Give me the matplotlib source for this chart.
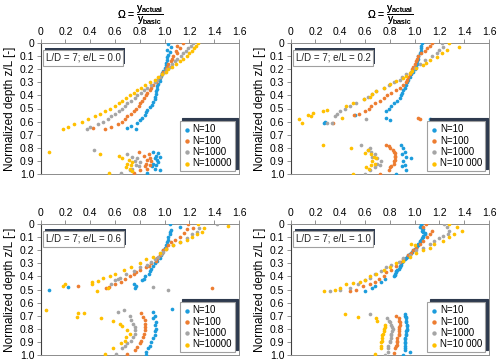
import matplotlib
matplotlib.use('Agg')
import matplotlib.pyplot as plt
from matplotlib import transforms
from matplotlib.patches import Rectangle

plt.rcParams['font.family'] = ['Liberation Sans', 'DejaVu Sans']
plt.rcParams['mathtext.fontset'] = 'custom'
plt.rcParams['mathtext.rm'] = 'Liberation Sans'
plt.rcParams['mathtext.it'] = 'Liberation Sans:italic'
plt.rcParams['mathtext.default'] = 'regular'

# ---------------- data ----------------
series_labels_a = ["N=10", "N=100", "N=1000", "N=10000"]
series_labels_b = ["N=10", "N=100", "N=1000", "N=10 000"]
panel_texts = ["L/D = 7; e/L = 0.0", "L/D = 7; e/L = 0.2", "L/D = 7; e/L = 0.6", "L/D = 7; e/L = 1.0"]
x_ticks = [0, 0.2, 0.4, 0.6, 0.8, 1.0, 1.2, 1.4, 1.6]
x_tick_labels = ["0", "0.2", "0.4", "0.6", "0.8", "1.0", "1.2", "1.4", "1.6"]
y_ticks = [0, 0.1, 0.2, 0.3, 0.4, 0.5, 0.6, 0.7, 0.8, 0.9, 1.0]
y_tick_labels = ["0", "0.1", "0.2", "0.3", "0.4", "0.5", "0.6", "0.7", "0.8", "0.9", "1.0"]

# Panel 1 : e/L = 0.0
p1_n10_z = [0.01, 0.03, 0.05, 0.07, 0.09, 0.11, 0.13, 0.15, 0.17, 0.19, 0.21, 0.23, 0.25, 0.27, 0.29, 0.31, 0.33,
            0.35, 0.37, 0.39, 0.41, 0.43, 0.45, 0.47, 0.49, 0.51, 0.53, 0.55, 0.57, 0.59, 0.61, 0.63, 0.65, 0.66,
            0.83, 0.84, 0.86, 0.87, 0.88, 0.89, 0.91, 0.92, 0.93, 0.94, 0.96, 0.97, 0.99]
p1_n10_w = [1.03, 1.05, 1.02, 1.04, 1.03, 1.02, 1.02, 1.01, 1.01, 1.00, 0.99, 0.98, 0.97, 0.96, 0.96, 0.95, 0.94,
            0.94, 0.93, 0.93, 0.92, 0.92, 0.91, 0.90, 0.88, 0.86, 0.85, 0.84, 0.82, 0.80, 0.78, 0.73, 0.70, 0.77,
            0.91, 0.95, 0.93, 0.96, 0.92, 0.94, 0.95, 0.91, 0.93, 0.90, 0.92, 0.96, 0.86]
p1_n100_z = [0.00, 0.02, 0.04, 0.06, 0.08, 0.10, 0.12, 0.14, 0.16, 0.18, 0.20, 0.22, 0.24, 0.26, 0.28, 0.30, 0.32,
             0.34, 0.36, 0.38, 0.40, 0.42, 0.44, 0.46, 0.48, 0.50, 0.52, 0.54, 0.56, 0.58, 0.60, 0.62, 0.64, 0.65, 0.66,
             0.83, 0.85, 0.86, 0.88, 0.89, 0.90, 0.92, 0.93, 0.94, 0.96, 0.97, 0.99]
p1_n100_w = [1.15, 1.10, 1.12, 1.09, 1.10, 1.07, 1.06, 1.05, 1.03, 1.02, 1.01, 0.99, 0.98, 0.96, 0.94, 0.93, 0.91,
             0.89, 0.88, 0.86, 0.85, 0.83, 0.82, 0.80, 0.79, 0.77, 0.75, 0.73, 0.70, 0.68, 0.66, 0.62, 0.57, 0.42, 0.52,
             0.79, 0.87, 0.83, 0.88, 0.86, 0.89, 0.85, 0.88, 0.84, 0.86, 0.80, 0.75]
p1_n1000_z = [0.00, 0.02, 0.04, 0.06, 0.08, 0.10, 0.12, 0.14, 0.16, 0.18, 0.20, 0.22, 0.24, 0.26, 0.28, 0.30, 0.32,
              0.34, 0.36, 0.38, 0.40, 0.42, 0.44, 0.46, 0.48, 0.50, 0.52, 0.54, 0.56, 0.58, 0.60, 0.62, 0.64, 0.66,
              0.82, 0.85, 0.87, 0.88, 0.90, 0.91, 0.93, 0.94, 0.96, 0.97, 0.99]
p1_n1000_w = [1.23, 1.21, 1.19, 1.17, 1.15, 1.13, 1.10, 1.08, 1.06, 1.04, 1.02, 1.00, 0.98, 0.96, 0.94, 0.92, 0.89,
              0.86, 0.83, 0.81, 0.78, 0.76, 0.73, 0.70, 0.68, 0.66, 0.63, 0.60, 0.57, 0.54, 0.50, 0.46, 0.40, 0.37,
              0.43, 0.70, 0.74, 0.78, 0.76, 0.80, 0.77, 0.79, 0.74, 0.72, 0.65]
p1_n10000_z = [0.00, 0.02, 0.04, 0.06, 0.08, 0.10, 0.12, 0.14, 0.16, 0.18, 0.20, 0.22, 0.24, 0.26, 0.28, 0.30, 0.32,
               0.34, 0.36, 0.38, 0.40, 0.42, 0.44, 0.46, 0.48, 0.50, 0.52, 0.54, 0.56, 0.58, 0.60, 0.62, 0.64, 0.66,
               0.83, 0.85, 0.86, 0.88, 0.89, 0.91, 0.92, 0.93, 0.95, 0.96, 0.98, 0.99]
p1_n10000_w = [1.27, 1.25, 1.24, 1.22, 1.20, 1.18, 1.15, 1.12, 1.09, 1.06, 1.03, 1.01, 0.98, 0.95, 0.92, 0.88, 0.84,
               0.81, 0.78, 0.75, 0.72, 0.69, 0.66, 0.63, 0.60, 0.56, 0.52, 0.48, 0.44, 0.38, 0.33, 0.27, 0.22, 0.18,
               0.07, 0.48, 0.63, 0.66, 0.71, 0.74, 0.70, 0.73, 0.69, 0.72, 0.74, 0.55]

# Panel 2 : e/L = 0.2
p2_n10_z = [0.00, 0.02, 0.04, 0.06, 0.08, 0.10, 0.12, 0.14, 0.16, 0.18, 0.20, 0.22, 0.24, 0.26, 0.28, 0.30, 0.32,
            0.34, 0.36, 0.38, 0.40, 0.42, 0.44, 0.46, 0.48, 0.50, 0.52, 0.55, 0.57, 0.58, 0.59, 0.60, 0.61,
            0.78, 0.80, 0.83, 0.85, 0.87, 0.88, 0.90, 0.93, 0.94, 0.97, 1.00]
p2_n10_w = [1.06, 1.05, 1.05, 1.05, 1.04, 1.03, 1.03, 1.02, 1.02, 1.01, 1.00, 0.99, 0.97, 0.96, 0.95, 0.94, 0.93,
            0.92, 0.91, 0.90, 0.89, 0.88, 0.86, 0.83, 0.81, 0.79, 0.77, 0.52, 0.77, 1.12, 0.80, 0.28, 0.27,
            0.89, 0.91, 0.92, 0.90, 0.93, 0.97, 0.91, 0.92, 0.90, 0.93, 0.85]
p2_n100_z = [0.00, 0.02, 0.04, 0.06, 0.08, 0.10, 0.12, 0.14, 0.16, 0.18, 0.20, 0.22, 0.24, 0.26, 0.28, 0.30, 0.32,
             0.34, 0.36, 0.38, 0.40, 0.42, 0.44, 0.46, 0.48, 0.50, 0.52, 0.54, 0.55, 0.57, 0.58, 0.61,
             0.78, 0.79, 0.80, 0.82, 0.83, 0.84, 0.86, 0.87, 0.89, 0.90, 0.92, 0.94, 0.95, 0.97, 1.00]
p2_n100_w = [1.14, 1.12, 1.10, 1.08, 1.05, 1.03, 1.02, 1.01, 1.00, 0.99, 0.98, 0.97, 0.96, 0.95, 0.94, 0.93, 0.91,
             0.88, 0.85, 0.81, 0.78, 0.75, 0.72, 0.68, 0.65, 0.63, 0.60, 0.55, 0.51, 1.03, 1.04, 0.34,
             0.77, 0.79, 0.80, 0.825, 0.835, 0.84, 0.845, 0.845, 0.84, 0.835, 0.83, 0.81, 0.80, 0.79, 0.72]
p2_n1000_z = [0.00, 0.03, 0.05, 0.08, 0.10, 0.13, 0.16, 0.19, 0.22, 0.24, 0.26, 0.28, 0.30, 0.32, 0.34, 0.37, 0.39,
              0.41, 0.43, 0.46, 0.48, 0.50, 0.52, 0.54, 0.56, 0.58, 0.61, 0.61,
              0.78, 0.80, 0.82, 0.83, 0.85, 0.87, 0.88, 0.90, 0.92, 0.93, 0.95, 0.97, 1.00]
p2_n1000_w = [1.22, 1.23, 1.20, 1.18, 1.14, 1.08, 1.04, 1.00, 0.97, 0.93, 0.90, 0.88, 0.83, 0.79, 0.75, 0.69, 0.66,
              0.62, 0.59, 0.53, 0.48, 0.44, 0.40, 0.37, 0.36, 0.61, 0.29, 0.33,
              0.57, 0.64, 0.62, 0.65, 0.68, 0.66, 0.70, 0.73, 0.70, 0.72, 0.68, 0.64, 0.60]
p2_n10000_z = [0.00, 0.03, 0.05, 0.08, 0.11, 0.13, 0.15, 0.17, 0.19, 0.21, 0.23, 0.25, 0.27, 0.29, 0.31, 0.34, 0.37,
               0.39, 0.41, 0.43, 0.46, 0.48, 0.51, 0.52, 0.535, 0.55, 0.56, 0.57, 0.58, 0.61,
               0.78, 0.80, 0.82, 0.84, 0.85, 0.87, 0.88, 0.90, 0.92, 0.93, 0.95, 0.96, 1.00]
p2_n10000_w = [1.28, 1.36, 1.26, 1.22, 1.18, 1.12, 1.09, 1.07, 1.01, 0.98, 0.96, 0.93, 0.91, 0.85, 0.80, 0.75, 0.69,
               0.66, 0.64, 0.59, 0.50, 0.45, 0.29, 0.26, 0.18, 0.14, 0.16, 0.41, 0.07, 0.09,
               0.26, 0.49, 0.62, 0.60, 0.65, 0.67, 0.69, 0.66, 0.68, 0.65, 0.61, 0.63, 0.50]

# Panel 3 : e/L = 0.6
p3_n10_z = [0.00, 0.02, 0.045, 0.06, 0.08, 0.10, 0.12, 0.14, 0.16, 0.18, 0.20, 0.22, 0.24, 0.26, 0.28, 0.30, 0.32,
            0.34, 0.36, 0.38, 0.40, 0.42, 0.43, 0.455, 0.47, 0.49, 0.48, 0.50, 0.65,
            0.67, 0.70, 0.72, 0.75, 0.77, 0.80, 0.82, 0.85, 0.87, 0.90, 0.93, 0.95, 0.98, 1.00]
p3_n10_w = [1.04, 1.12, 1.05, 1.04, 1.04, 1.03, 1.03, 1.02, 1.01, 1.00, 0.99, 0.98, 0.97, 0.96, 0.94, 0.92, 0.91,
            0.89, 0.88, 0.87, 0.84, 0.83, 0.82, 0.75, 0.77, 0.76, 0.22, 0.07, 1.06,
            0.91, 0.92, 0.91, 0.93, 0.92, 0.93, 0.92, 0.92, 0.905, 0.89, 0.88, 0.865, 0.85, 0.85]
p3_n100_z = [0.00, 0.03, 0.04, 0.07, 0.10, 0.12, 0.14, 0.16, 0.18, 0.20, 0.22, 0.24, 0.26, 0.28, 0.30, 0.32, 0.33,
             0.35, 0.37, 0.38, 0.40, 0.42, 0.44, 0.455, 0.47, 0.48, 0.49, 0.49,
             0.68, 0.71, 0.73, 0.76, 0.79, 0.81, 0.84, 0.86, 0.89, 0.91, 0.94, 0.96, 0.99]
p3_n100_w = [1.19, 1.23, 1.18, 1.16, 1.12, 1.08, 1.05, 1.03, 1.01, 0.99, 0.98, 0.96, 0.94, 0.93, 0.89, 0.87, 0.85,
             0.80, 0.77, 0.75, 0.72, 0.68, 0.65, 0.60, 0.30, 0.55, 0.53, 1.38,
             0.81, 0.825, 0.84, 0.845, 0.845, 0.84, 0.83, 0.825, 0.81, 0.80, 0.78, 0.76, 0.70]
p3_n1000_z = [0.00, 0.03, 0.06, 0.08, 0.11, 0.14, 0.16, 0.19, 0.21, 0.23, 0.25, 0.27, 0.29, 0.31, 0.33, 0.36, 0.38,
              0.41, 0.42, 0.43, 0.46, 0.48, 0.50,
              0.66, 0.67, 0.70, 0.73, 0.76, 0.79, 0.81, 0.84, 0.86, 0.89, 0.91, 0.93, 0.95, 0.99]
p3_n1000_w = [1.42, 1.28, 1.26, 1.22, 1.18, 1.12, 1.07, 1.01, 0.99, 0.97, 0.95, 0.92, 0.89, 0.86, 0.80, 0.75, 0.69,
              0.64, 0.62, 0.60, 0.57, 0.91, 1.03,
              0.67, 0.62, 0.72, 0.73, 0.745, 0.76, 0.763, 0.76, 0.745, 0.73, 0.70, 0.68, 0.66, 0.61]
p3_n10000_z = [0.00, 0.015, 0.03, 0.06, 0.08, 0.10, 0.12, 0.14, 0.16, 0.19, 0.22, 0.25, 0.27, 0.30, 0.33, 0.35, 0.38,
               0.40, 0.41, 0.435, 0.44, 0.455, 0.46, 0.47, 0.49, 0.51,
               0.66, 0.68, 0.68, 0.71, 0.72, 0.74, 0.76, 0.78, 0.81, 0.84, 0.86, 0.89, 0.91, 0.95, 0.99]
p3_n10000_w = [1.27, 1.51, 1.32, 1.30, 1.26, 1.22, 1.18, 1.12, 1.07, 1.01, 0.96, 0.91, 0.85, 0.80, 0.73, 0.67, 0.60,
               0.56, 0.50, 0.46, 0.41, 0.41, 0.20, 0.18, 0.54, 0.457,
               0.045, 0.30, 0.35, 0.295, 0.49, 0.58, 0.64, 0.66, 0.70, 0.72, 0.69, 0.68, 0.65, 0.58, 0.516]

# Panel 4 : e/L = 1.0
p4_n10_z = [0.00, 0.01, 0.02, 0.03, 0.04, 0.05, 0.06, 0.07, 0.08, 0.09, 0.10, 0.11, 0.12, 0.13, 0.14, 0.15, 0.16,
            0.17, 0.18, 0.19, 0.20, 0.21, 0.22, 0.23, 0.24, 0.25, 0.26, 0.27, 0.28, 0.29, 0.30, 0.31, 0.32, 0.33,
            0.34, 0.35, 0.36, 0.37, 0.38, 0.39, 0.40, 0.42, 0.44, 0.47, 0.49, 0.51,
            0.69, 0.70, 0.71, 0.72, 0.74, 0.75, 0.77, 0.78, 0.80, 0.81, 0.82, 0.84, 0.85, 0.87, 0.88, 0.90, 0.91,
            0.93, 0.95, 0.96, 0.98, 1.00]
p4_n10_w = [1.05, 1.05, 1.04, 1.06, 1.07, 1.06, 1.07, 1.08, 1.08, 1.07, 1.07, 1.06, 1.05, 1.04, 1.04, 1.03, 1.03,
            1.02, 1.01, 1.00, 0.99, 0.98, 0.97, 0.96, 0.95, 0.94, 0.93, 0.92, 0.91, 0.90, 0.89, 0.89, 0.88, 0.88,
            0.87, 0.86, 0.85, 0.85, 0.84, 0.84, 0.83, 0.76, 0.73, 0.68, 0.66, 0.60,
            0.92, 0.92, 0.93, 0.93, 0.93, 0.93, 0.94, 0.94, 0.94, 0.94, 0.93, 0.93, 0.93, 0.925, 0.925, 0.925, 0.92,
            0.92, 0.92, 0.92, 0.96, 0.905]
p4_n100_z = [0.00, 0.025, 0.05, 0.08, 0.10, 0.13, 0.155, 0.18, 0.20, 0.22, 0.24, 0.27, 0.29, 0.32, 0.35, 0.37, 0.40,
             0.42, 0.44, 0.46, 0.47, 0.50, 0.51,
             0.705, 0.72, 0.74, 0.75, 0.77, 0.79, 0.80, 0.82, 0.84, 0.85, 0.87, 0.89, 0.90, 0.92, 0.93, 0.95, 0.985]
p4_n100_w = [1.095, 1.07, 1.14, 1.12, 1.10, 1.07, 1.04, 1.01, 0.99, 0.97, 0.95, 0.91, 0.88, 0.85, 0.81, 0.77, 0.75,
             0.71, 0.68, 0.64, 0.585, 0.53, 0.48,
             0.85, 0.87, 0.875, 0.88, 0.88, 0.875, 0.875, 0.875, 0.87, 0.87, 0.86, 0.86, 0.86, 0.855, 0.85, 0.845, 0.835]
p4_n1000_z = [0.00, 0.025, 0.05, 0.08, 0.09, 0.11, 0.13, 0.155, 0.18, 0.20, 0.235, 0.26, 0.29, 0.31, 0.33, 0.36, 0.38,
              0.41, 0.43, 0.46, 0.49, 0.50, 0.51,
              0.69, 0.72, 0.74, 0.75, 0.77, 0.79, 0.80, 0.82, 0.84, 0.85, 0.87, 0.89, 0.90, 0.93, 0.95, 0.98, 1.00]
p4_n1000_w = [1.24, 1.26, 1.28, 1.27, 1.23, 1.20, 1.16, 1.12, 1.07, 1.01, 0.96, 0.91, 0.87, 0.81, 0.77, 0.73, 0.68,
              0.64, 0.60, 0.545, 0.48, 0.40, 0.32,
              0.64, 0.78, 0.79, 0.80, 0.81, 0.82, 0.825, 0.82, 0.81, 0.81, 0.81, 0.80, 0.80, 0.785, 0.785, 0.785, 0.76]
p4_n10000_z = [0.00, 0.025, 0.05, 0.08, 0.10, 0.13, 0.155, 0.153, 0.16, 0.18, 0.20, 0.225, 0.25, 0.28, 0.30, 0.33,
               0.35, 0.38, 0.40, 0.43, 0.44, 0.45, 0.46, 0.49, 0.50, 0.51,
               0.69, 0.71, 0.72, 0.74, 0.77, 0.79, 0.80, 0.82, 0.84, 0.85, 0.87, 0.89, 0.90, 0.93, 0.95, 0.99]
p4_n10000_w = [1.28, 1.34, 1.38, 1.32, 1.28, 1.23, 1.16, 0.97, 1.00, 1.12, 1.07, 1.01, 0.96, 0.91, 0.85, 0.80,
               0.75, 0.69, 0.64, 0.60, 0.56, 0.50, 0.45, 0.40, 0.36, 0.27,
               0.435, 0.54, 0.69, 0.70, 0.76, 0.76, 0.755, 0.75, 0.745, 0.74, 0.74, 0.735, 0.73, 0.73, 0.725, 0.68]

colors = ["#1C9CDC", "#ED7D31", "#A5A5A5", "#FFC000"]

panels = [
    ([(p1_n10_z, p1_n10_w), (p1_n100_z, p1_n100_w), (p1_n1000_z, p1_n1000_w), (p1_n10000_z, p1_n10000_w)],
     panel_texts[0], series_labels_a),
    ([(p2_n10_z, p2_n10_w), (p2_n100_z, p2_n100_w), (p2_n1000_z, p2_n1000_w), (p2_n10000_z, p2_n10000_w)],
     panel_texts[1], series_labels_b),
    ([(p3_n10_z, p3_n10_w), (p3_n100_z, p3_n100_w), (p3_n1000_z, p3_n1000_w), (p3_n10000_z, p3_n10000_w)],
     panel_texts[2], series_labels_a),
    ([(p4_n10_z, p4_n10_w), (p4_n100_z, p4_n100_w), (p4_n1000_z, p4_n1000_w), (p4_n10000_z, p4_n10000_w)],
     panel_texts[3], series_labels_b),
]

W, H = 500, 364
fig = plt.figure(figsize=(W / 100, H / 100), dpi=100)
boxes = [(40.7, 43, 239, 174), (290.7, 43, 489, 174), (40.7, 224, 239, 355), (290.7, 224, 489, 355)]
title = r'$\Omega$ = $\dfrac{\mathrm{y_{actual}}}{\mathrm{y_{basic}}}$'
dark = "#2E3A4E"

text_boxes = []
for (series, ptxt, labels), (x0, y0, x1, y1) in zip(panels, boxes):
    ax = fig.add_axes([x0 / W, 1 - y1 / H, (x1 - x0) / W, (y1 - y0) / H])
    for (z, w), c, lab in zip(series, colors, labels):
        ax.scatter(w, z, s=7, color=c, linewidths=0, label=lab, zorder=3)
    ax.set_xlim(0, 1.6)
    ax.set_ylim(1.0, 0)
    ax.xaxis.tick_top()
    ax.set_xticks(x_ticks)
    ax.set_xticklabels(x_tick_labels)
    ax.set_yticks(y_ticks)
    ax.set_yticklabels(y_tick_labels)
    ax.tick_params(labelsize=7.5, length=3, width=0.6, color="#808080", pad=1.5)
    for side in ["top", "right", "bottom"]:
        ax.spines[side].set_color("#8c8c8c")
        ax.spines[side].set_linewidth(0.7)
    ax.spines["left"].set_color("#404040")
    ax.spines["left"].set_linewidth(0.8)
    ax.set_ylabel("Normalized depth z/L [-]", fontsize=8.5, labelpad=3)
    fig.text((x0 + x1) / 2 / W, 1 - 27 / H, title, ha="center", va="bottom", fontsize=7.5)

    t = ax.text(0.025, 0.925, ptxt, transform=ax.transAxes, fontsize=7, va="top", ha="left", color="#222222",
                bbox=dict(boxstyle="square,pad=0.3", fc="white", ec="#a0a0a0", lw=0.8), zorder=6)
    text_boxes.append((ax, t))

    leg = ax.legend(loc="lower right", bbox_to_anchor=(0.99, 0.005), fontsize=7, frameon=True, fancybox=False,
                    handletextpad=0.15, labelspacing=0.15, borderpad=0.3, handlelength=0.9,
                    borderaxespad=0.2, markerscale=1.2,
                    shadow={"ox": 2, "oy": 2, "color": dark, "alpha": 1})
    leg.get_frame().set_edgecolor("#a0a0a0")
    leg.get_frame().set_linewidth(0.8)
    leg.set_zorder(10)

# shadows behind the text boxes (offset up-right)
fig.canvas.draw()
renderer = fig.canvas.get_renderer()
for ax, t in text_boxes:
    bb = t.get_bbox_patch().get_window_extent(renderer)
    ax.add_patch(Rectangle((bb.x0 + 2, bb.y0 + 2), bb.width, bb.height,
                           transform=transforms.IdentityTransform(), facecolor=dark, edgecolor="none",
                           zorder=5, clip_on=False))

fig.savefig("out.png", dpi=100)
